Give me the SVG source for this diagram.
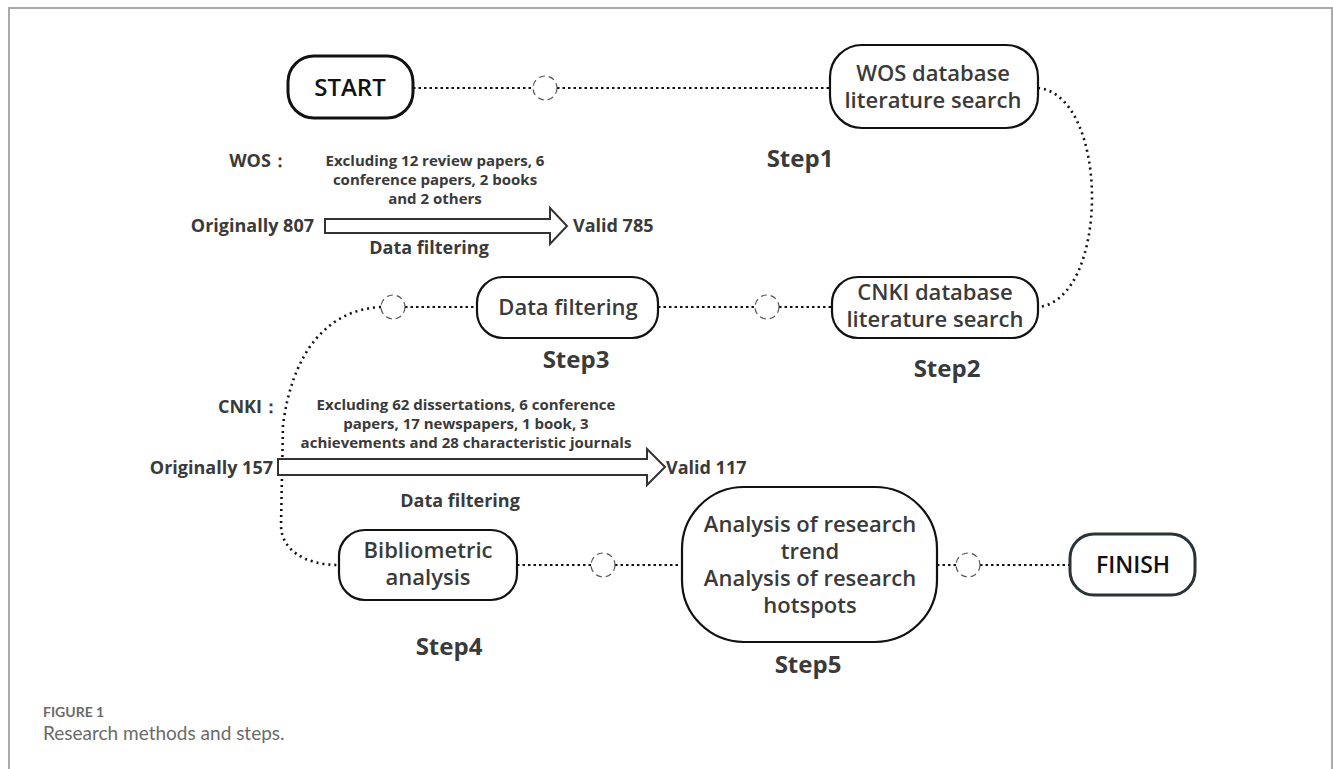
<svg xmlns="http://www.w3.org/2000/svg" width="1333" height="769" viewBox="0 0 1333 769">
<style>
.box{fill:#fff;stroke:#111;stroke-width:2.2}
.term{fill:#fff;stroke:#111;stroke-width:3}
.t{font-family:"Open Sans","Noto Sans",sans-serif;font-weight:600;fill:#3a3a3a;text-anchor:middle}
.nt{font-size:22px}
.step{font-size:24px;font-weight:700}
.small{font-size:15px;font-weight:700}
.lab{font-size:18px;font-weight:700}
.dot{fill:none;stroke:#111;stroke-width:2.2;stroke-dasharray:2.5 3}
.dotc{fill:none;stroke:#111;stroke-width:2.6;stroke-dasharray:2 4}
.circ{fill:#fff;stroke:#555;stroke-width:1.2;stroke-dasharray:6 4}
.arr{fill:#fff;stroke:#333;stroke-width:2}
</style>
<rect x="9" y="8" width="1323" height="780" fill="#fff" stroke="#aaa" stroke-width="2"/>

<g id="connectors">
<line class="dot" x1="413" y1="88" x2="533" y2="88"/>
<line class="dot" x1="557" y1="88" x2="830" y2="88"/>
<path class="dotc" d="M1038,88 C1110,95 1110,300 1038,307"/>
<line class="dot" x1="779" y1="307" x2="832" y2="307"/>
<line class="dot" x1="658" y1="307" x2="755" y2="307"/>
<line class="dot" x1="405" y1="307" x2="477" y2="307"/>
<path class="dotc" d="M381,307 C325,310 292,355 283,425 L281,525 C281,550 305,565 339,565"/>
<line class="dot" x1="517" y1="565" x2="591" y2="565"/>
<line class="dot" x1="615" y1="565" x2="682" y2="565"/>
<line class="dot" x1="937" y1="565" x2="956" y2="565"/>
<line class="dot" x1="980" y1="565" x2="1070" y2="565"/>
<circle class="circ" cx="545" cy="88" r="12"/>
<circle class="circ" cx="767" cy="307" r="12"/>
<circle class="circ" cx="393" cy="307" r="12"/>
<circle class="circ" cx="603" cy="565" r="12"/>
<circle class="circ" cx="968" cy="565" r="12"/>
</g>

<g id="start">
<rect class="term" x="288" y="56" width="125" height="62" rx="26"/>
<text class="t" x="350" y="96" font-size="24" font-weight="700" style="fill:#111">START</text>
</g>

<g id="wos">
<rect class="box" x="830" y="45" width="208" height="83" rx="32"/>
<text class="t nt" x="933" y="81">WOS database</text>
<text class="t nt" x="933" y="108">literature search</text>
</g>
<text class="t step" x="800" y="167">Step1</text>

<g id="cnki">
<rect class="box" x="832" y="277" width="206" height="61" rx="26"/>
<text class="t nt" x="935" y="300">CNKI database</text>
<text class="t nt" x="935" y="327">literature search</text>
</g>
<text class="t step" x="947" y="377">Step2</text>

<g id="filter">
<rect class="box" x="477" y="277" width="181" height="61" rx="26"/>
<text class="t nt" x="568" y="315">Data filtering</text>
</g>
<text class="t step" x="576" y="368">Step3</text>

<g id="wos-filter">
<text class="t lab" x="259" y="167">WOS：</text>
<text class="t small" x="435" y="166">Excluding 12 review papers, 6</text>
<text class="t small" x="435" y="185">conference papers, 2 books</text>
<text class="t small" x="435" y="204">and 2 others</text>
<text class="t lab" x="314" y="232" style="text-anchor:end">Originally 807</text>
<path class="arr" d="M325,219 L550,219 L550,208 L567,226 L550,244 L550,233 L325,233 Z"/>
<text class="t lab" x="573" y="232" style="text-anchor:start">Valid 785</text>
<text class="t lab" x="429" y="254">Data filtering</text>
</g>

<g id="cnki-filter">
<text class="t lab" x="249" y="413">CNKI：</text>
<text class="t small" x="466" y="410">Excluding 62 dissertations, 6 conference</text>
<text class="t small" x="466" y="429">papers, 17 newspapers, 1 book, 3</text>
<text class="t small" x="466" y="448">achievements and 28 characteristic journals</text>
<text class="t lab" x="273" y="474" style="text-anchor:end">Originally 157</text>
<path class="arr" d="M278,459 L647,459 L647,449 L665,467 L647,485 L647,475 L278,475 Z"/>
<text class="t lab" x="666" y="474" style="text-anchor:start">Valid 117</text>
<text class="t lab" x="460" y="507">Data filtering</text>
</g>

<g id="biblio">
<rect class="box" x="339" y="530" width="178" height="70" rx="26"/>
<text class="t nt" x="428" y="558">Bibliometric</text>
<text class="t nt" x="428" y="585">analysis</text>
</g>
<text class="t step" x="449" y="655">Step4</text>

<g id="analysis">
<rect class="box" x="682" y="487" width="255" height="155" rx="62"/>
<text class="t nt" x="810" y="532">Analysis of research</text>
<text class="t nt" x="810" y="559">trend</text>
<text class="t nt" x="810" y="586">Analysis of research</text>
<text class="t nt" x="810" y="613">hotspots</text>
</g>
<text class="t step" x="808" y="673">Step5</text>

<g id="finish">
<rect class="term" x="1070" y="534" width="125" height="61" rx="24" style="stroke:#2a3338"/>
<text class="t" x="1133" y="573" font-size="23" font-weight="700" style="fill:#111">FINISH</text>
</g>

<text x="43" y="717" font-family="Lato,'Open Sans',sans-serif" font-size="14" font-weight="700" fill="#6a6a6a">FIGURE 1</text>
<text x="43" y="740" font-family="Lato,'Open Sans',sans-serif" font-size="19" fill="#6a6a6a">Research methods and steps.</text>
</svg>
